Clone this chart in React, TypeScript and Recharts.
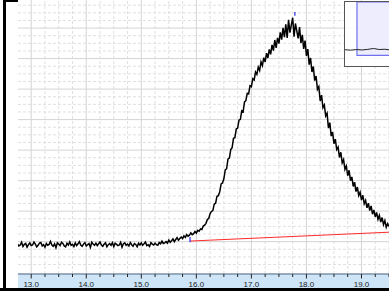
import {
  Line,
  LineChart,
  ReferenceArea,
  ReferenceLine,
  XAxis,
  YAxis,
} from 'recharts'

// detector trace, sampled every 0.025 min from 12.75 min
const START_TIME = 12.75
const STEP = 0.025

const signal = [
  9.3, 8.6, 8.9, 9.8, 8.4, 9.1, 9.4, 8.2, 9.0, 9.6,
  8.7, 8.9, 9.9, 9.2, 8.3, 8.8, 9.5, 9.7, 8.6, 9.0,
  8.2, 9.4, 8.8, 9.1, 10.1, 8.9, 8.5, 9.3, 8.0, 9.6,
  9.2, 8.7, 9.8, 9.4, 8.6, 8.3, 9.5, 8.9, 9.9, 8.8,
  9.1, 8.4, 9.6, 8.7, 9.3, 10.0, 8.9, 8.5, 9.2, 9.7,
  8.6, 9.0, 9.4, 8.1, 9.8, 9.2, 8.8, 9.5, 8.7, 9.3,
  9.9, 8.9, 8.5, 9.2, 9.6, 8.3, 9.0, 9.4, 8.8, 9.7,
  8.4, 9.5, 9.1, 8.7, 8.9, 9.8, 8.2, 9.3, 9.6, 8.8,
  9.2, 8.6, 9.7, 9.0, 8.5, 9.4, 9.1, 8.3, 9.5, 8.9,
  9.6, 8.8, 9.3, 9.9, 8.7, 9.0, 8.4, 9.7, 9.2, 8.9,
  9.5, 9.0, 8.8, 9.7, 9.3, 10.2, 9.4, 9.6, 10.0, 9.5,
  10.5, 9.8, 10.3, 10.9, 10.0, 10.7, 11.3, 10.5, 11.0, 11.5,
  11.0, 11.9, 11.4, 12.3, 11.8, 12.1, 12.9, 12.3, 12.6, 13.3,
  12.8, 13.7, 13.4, 14.2, 14.0, 15.1, 15.4, 16.0, 17.3, 17.6,
  19.2, 19.9, 20.2, 22.3, 22.6, 24.9, 25.1, 26.3, 28.9, 29.2,
  30.6, 33.5, 33.9, 37.1, 37.4, 40.2, 40.8, 43.9, 44.1, 46.9,
  47.2, 49.8, 50.1, 52.9, 52.6, 55.8, 56.2, 58.6, 58.4, 61.1,
  60.8, 63.4, 63.0, 65.6, 64.8, 67.2, 66.1, 68.9, 67.7, 70.3,
  68.9, 71.8, 70.2, 73.0, 71.4, 74.5, 72.6, 76.1, 73.5, 76.8,
  74.9, 78.6, 76.2, 80.1, 77.0, 81.2, 76.8, 82.7, 78.5, 81.0,
  83.4, 77.2, 81.5, 79.0, 76.6, 80.3, 75.1, 77.8, 73.2, 75.9,
  70.9, 73.1, 68.0, 70.2, 65.6, 67.4, 62.8, 64.3, 59.9, 60.8,
  56.1, 58.0, 53.9, 54.8, 51.2, 52.1, 47.2, 49.0, 44.6, 45.9,
  42.1, 43.6, 40.2, 41.0, 37.6, 39.3, 35.8, 36.9, 33.7, 34.8,
  31.6, 33.4, 30.0, 31.2, 28.1, 29.5, 26.4, 27.9, 25.1, 26.2,
  23.6, 25.2, 22.4, 23.5, 21.1, 22.6, 20.2, 21.7, 19.0, 20.4,
  18.1, 19.6, 17.3, 18.6, 16.4, 17.9, 15.6, 16.9, 14.7, 15.9,
  15.0,
]

// integration baseline (red) and peak markers (blue)
const baselineTimes = [15.885, 19.5]
const baselineValues = [10.2, 13.1]
const peakStart = { time: 15.885, low: 9.8, high: 11.5 }
const peakApex = { time: 17.79, low: 84.0, high: 85.3 }

const xMajorTicks = [13, 14, 15, 16, 17, 18, 19]
const xMinorTicks = [
  13, 13.25, 13.5, 13.75, 14, 14.25, 14.5, 14.75, 15, 15.25, 15.5, 15.75,
  16, 16.25, 16.5, 16.75, 17, 17.25, 17.5, 17.75, 18, 18.25, 18.5, 18.75,
  19, 19.25, 19.5,
]
const yMajorTicks = [10, 20, 30, 40, 50, 60, 70, 80]
const yMinorTicks = [
  2.5, 5, 7.5, 12.5, 15, 17.5, 22.5, 25, 27.5, 32.5, 35, 37.5,
  42.5, 45, 47.5, 52.5, 55, 57.5, 62.5, 65, 67.5, 72.5, 75,
  77.5, 82.5, 85, 87.5,
]

// overview inset (top right)
const overviewTimes = [0, 2, 4, 6, 8, 10, 12, 14, 16, 18, 20]
const overviewValues = [24.2, 23.6, 24.5, 23.9, 24.8, 26.2, 24.6, 25.0, 23.8, 24.1, 23.7]
const overviewWindow = { x1: 4.2, x2: 30, y1: 15.3, y2: 100 }

const traceData = signal.map((value, i) => ({
  time: +(START_TIME + i * STEP).toFixed(3),
  value,
}))
const baselineData = baselineTimes.map((time, i) => ({ time, value: baselineValues[i] }))
const overviewData = overviewTimes.map((time, i) => ({ time, value: overviewValues[i] }))

const isMajor = (v: number) => xMajorTicks.some((t) => Math.abs(t - v) < 1e-6)

function TimeTick({ x, y, payload }: any) {
  const major = isMajor(payload.value)
  return (
    <g>
      <line x1={x} x2={x} y1={y} y2={y + (major ? 4.5 : 3)} stroke="#222" strokeWidth={1} />
      {major && (
        <text
          x={x}
          y={y + 12.8}
          textAnchor="middle"
          fontSize={8}
          fontFamily="'Liberation Sans', Arial, sans-serif"
          fill="#222"
        >
          {payload.value.toFixed(1)}
        </text>
      )}
    </g>
  )
}

export default function App() {
  return (
    <div
      style={{
        position: 'absolute',
        left: 0,
        top: 0,
        width: 389,
        height: 291,
        overflow: 'hidden',
        background: '#fff',
      }}
    >
      {/* time axis band */}
      <div
        style={{ position: 'absolute', left: 18, top: 274, width: 371, height: 14, background: '#cde5f7' }}
      />
      <div style={{ position: 'absolute', left: 0, top: 0 }}>
        <LineChart
          width={389}
          height={291}
          data={traceData}
          margin={{ top: 0, right: 0, left: 18, bottom: 0 }}
        >
          <XAxis
            dataKey="time"
            type="number"
            domain={[12.76, 19.5]}
            allowDataOverflow
            ticks={xMinorTicks}
            interval={0}
            height={17}
            tickSize={0}
            tickMargin={0}
            tick={<TimeTick />}
            axisLine={{ stroke: '#7d90a6', strokeWidth: 1.5 }}
          />
          <YAxis
            type="number"
            domain={[-0.6, 89.2]}
            allowDataOverflow
            width={0}
            tick={false}
            tickLine={false}
            axisLine={false}
          />
          {xMinorTicks
            .filter((t) => !isMajor(t))
            .map((t) => (
              <ReferenceLine key={`vx${t}`} x={t} stroke="#e0e0e0" strokeDasharray="3 2" />
            ))}
          {yMinorTicks.map((v) => (
            <ReferenceLine key={`hy${v}`} y={v} stroke="#e0e0e0" strokeDasharray="3 2" />
          ))}
          {xMajorTicks.map((t) => (
            <ReferenceLine key={`VX${t}`} x={t} stroke="#d4d4d4" />
          ))}
          {yMajorTicks.map((v) => (
            <ReferenceLine key={`HY${v}`} y={v} stroke="#d4d4d4" />
          ))}
          <Line
            dataKey="value"
            type="linear"
            stroke="#000"
            strokeWidth={1.5}
            dot={false}
            isAnimationActive={false}
          />
          <Line
            data={baselineData}
            dataKey="value"
            type="linear"
            stroke="#ff2a2a"
            strokeWidth={1}
            dot={false}
            isAnimationActive={false}
          />
          <ReferenceLine
            segment={[
              { x: peakStart.time, y: peakStart.low },
              { x: peakStart.time, y: peakStart.high },
            ]}
            stroke="#2a2ae0"
            strokeWidth={1.2}
          />
          <ReferenceLine
            segment={[
              { x: peakApex.time, y: peakApex.low },
              { x: peakApex.time, y: peakApex.high },
            ]}
            stroke="#2a2ae0"
            strokeWidth={1.2}
          />
        </LineChart>
      </div>

      {/* window frame */}
      <div style={{ position: 'absolute', left: 3, top: 0, width: 3, height: 291, background: '#000' }} />
      <div style={{ position: 'absolute', left: 3, top: 0, width: 15, height: 2, background: '#000' }} />
      <div style={{ position: 'absolute', left: 0, top: 288, width: 389, height: 3, background: '#000' }} />

      {/* overview inset */}
      <div
        style={{
          position: 'absolute',
          left: 344,
          top: 1,
          width: 70,
          height: 66,
          boxSizing: 'border-box',
          border: '1.5px solid #555',
          background: 'rgba(255,255,255,0.88)',
        }}
      >
        <LineChart width={67} height={63} data={overviewData} margin={{ top: 0, right: 0, left: 0, bottom: 0 }}>
          <XAxis dataKey="time" type="number" domain={[0, 23.5]} hide />
          <YAxis type="number" domain={[0, 100]} hide />
          <ReferenceArea
            x1={overviewWindow.x1}
            x2={overviewWindow.x2}
            y1={overviewWindow.y1}
            y2={overviewWindow.y2}
            fill="#ededfd"
            fillOpacity={1}
            stroke="#7070f0"
            strokeWidth={1.2}
            ifOverflow="hidden"
          />
          <Line
            dataKey="value"
            type="linear"
            stroke="#222"
            strokeWidth={1}
            dot={false}
            isAnimationActive={false}
          />
        </LineChart>
      </div>
    </div>
  )
}
